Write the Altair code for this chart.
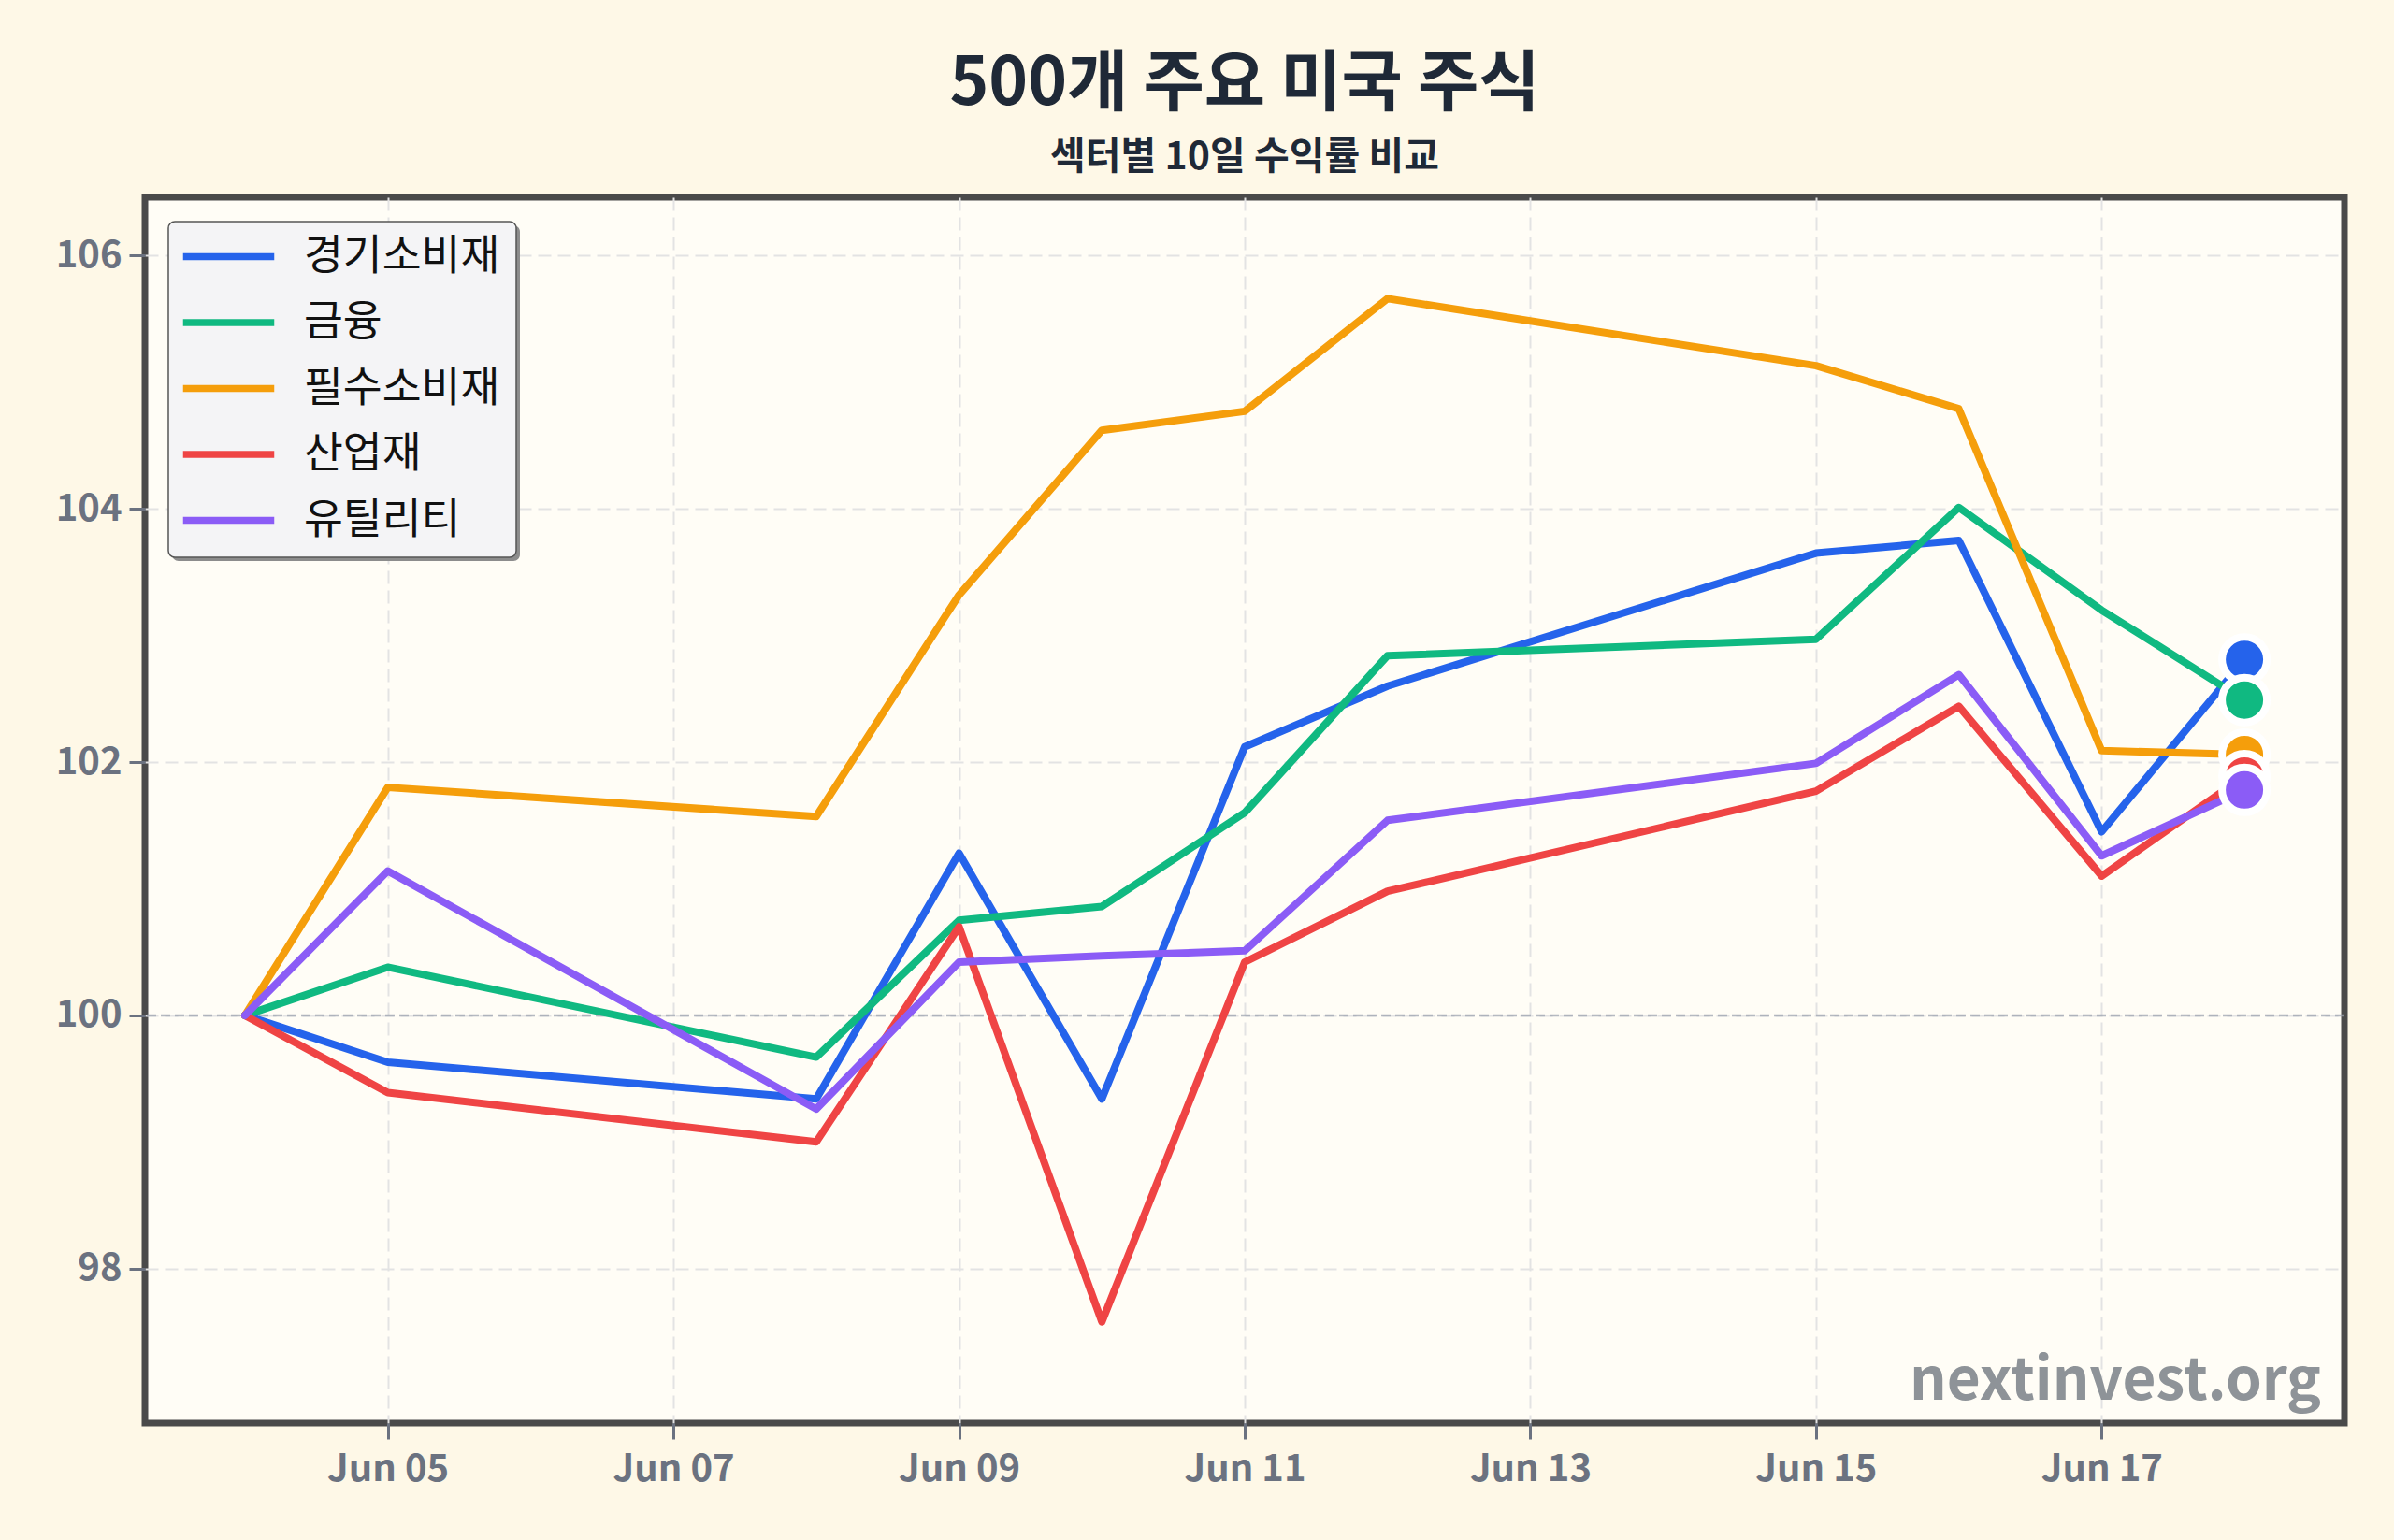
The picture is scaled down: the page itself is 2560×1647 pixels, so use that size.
import altair as alt
import pandas as pd

# ---- data ----
dates = ["2020-06-04", "2020-06-05", "2020-06-08", "2020-06-09", "2020-06-10",
         "2020-06-11", "2020-06-12", "2020-06-15", "2020-06-16", "2020-06-17",
         "2020-06-18"]
sectors = ["경기소비재", "금융", "필수소비재", "산업재", "유틸리티"]
colors = ["#2563eb", "#10b981", "#f59e0b", "#ef4444", "#8b5cf6"]

consumer_disc = [100.00, 99.63, 99.34, 101.28, 99.34, 102.12, 102.60, 103.65, 103.75, 101.45, 102.81]
financials    = [100.00, 100.38, 99.67, 100.75, 100.86, 101.60, 102.84, 102.97, 104.01, 103.20, 102.49]
staples       = [100.00, 101.80, 101.57, 103.32, 104.62, 104.77, 105.66, 105.13, 104.79, 102.09, 102.06]
industrials   = [100.00, 99.39, 99.00, 100.70, 97.58, 100.42, 100.98, 101.77, 102.44, 101.10, 101.89]
utilities     = [100.00, 101.14, 99.26, 100.42, 100.47, 100.51, 101.54, 101.99, 102.69, 101.26, 101.78]

y_ticks = [98, 100, 102, 104, 106]
x_tick_days = [5, 7, 9, 11, 13, 15, 17]
baseline = [100]
title_text = "500개 주요 미국 주식"
subtitle_text = "섹터별 10일 수익률 비교"
watermark = ["nextinvest.org"]

series = [consumer_disc, financials, staples, industrials, utilities]
rows = []
for s, vals in zip(sectors, series):
    for d, v in zip(dates, vals):
        rows.append({"date": d, "sector": s, "value": v})
df = pd.DataFrame(rows)
last = df[df["date"] == dates[-1]].reset_index(drop=True)

FONT = "Noto Sans CJK KR"
W, H = 2352, 1311

x_domain = [alt.DateTime(year=2020, month=6, date=3, hours=7, minutes=12, utc=True),
            alt.DateTime(year=2020, month=6, date=18, hours=16, minutes=48, utc=True)]
x_values = [alt.DateTime(year=2020, month=6, date=d, utc=True) for d in x_tick_days]

x_enc = alt.X("date:T", scale=alt.Scale(type="utc", domain=x_domain),
              axis=alt.Axis(values=x_values, format="%b %d", title=None,
                            labelPadding=12))
y_enc = alt.Y("value:Q", scale=alt.Scale(domain=[96.78, 106.46], nice=False, zero=False),
              axis=alt.Axis(values=y_ticks, format="d", title=None, labelPadding=8))
color_scale = alt.Scale(domain=sectors, range=colors)

base = alt.Chart(df)
one = pd.DataFrame({"k": [0]})

# legend frame + drop shadow (legend's own frame is disabled)
shadow = alt.Chart(one).mark_rect(fill="#8c8c8c", cornerRadius=7).encode(
    x=alt.value(29), x2=alt.value(401), y=alt.value(30), y2=alt.value(389))
box = alt.Chart(one).mark_rect(fill="#f4f4f6", stroke="#555555", strokeWidth=1.5,
                               cornerRadius=7).encode(
    x=alt.value(25), x2=alt.value(397), y=alt.value(26), y2=alt.value(385))

ref = alt.Chart(pd.DataFrame({"y": baseline})).mark_rule(
    color="#9ca3af", strokeDash=[10, 5], strokeWidth=2.5, opacity=0.75
).encode(y="y:Q")

lines = base.mark_line(strokeWidth=8, strokeJoin="round", strokeCap="round").encode(
    x=x_enc, y=y_enc,
    color=alt.Color("sector:N", scale=color_scale, sort=sectors,
                    legend=alt.Legend(
                        title=None, orient="top-left", offset=25,
                        symbolType="M-2.5,0L2.5,0", symbolSize=1521,
                        symbolStrokeWidth=7.5, symbolOffset=26,
                        labelOffset=57, labelFont=FONT, labelFontSize=45.5,
                        labelColor="#111111", labelLimit=600,
                        rowPadding=23.5, padding=15)),
    detail="sector:N",
)

dots = alt.Chart(last).mark_circle(size=2304, stroke="white", strokeWidth=8, opacity=1).encode(
    x="date:T", y="value:Q",
    color=alt.Color("sector:N", scale=color_scale, legend=None),
)

wm = alt.Chart(pd.DataFrame({"t": watermark})).mark_text(
    align="right", baseline="alphabetic", font=FONT, fontSize=62,
    fontWeight="bold", color="#8e9398"
).encode(x=alt.value(W - 25), y=alt.value(H - 25), text="t:N")

chart = alt.layer(ref, lines, dots, wm, shadow, box).properties(
    width=W, height=H,
    autosize="none",
    padding={"left": 155, "top": 211, "right": 53, "bottom": 125},
    background="#fef8e7",
    title=alt.TitleParams(
        text=title_text, subtitle=subtitle_text, anchor="middle", frame="group",
        font=FONT, fontSize=71, fontWeight="bold", color="#1f2937",
        subtitleFont=FONT, subtitleFontSize=41, subtitleFontWeight="bold",
        subtitleColor="#1f2937", subtitlePadding=22, offset=21,
    ),
).configure_view(
    stroke="#4a4a4a", strokeWidth=7, fill="#fffdf6"
).configure_axis(
    domain=False, tickColor="#6b7280", tickWidth=3, tickSize=17,
    labelFont=FONT, labelFontSize=40, labelFontWeight="bold", labelColor="#6b7280",
    grid=True, gridColor="#e3e3e3", gridDash=[14, 7], gridWidth=2,
)

chart.save("out.html", embed_options={"renderer": "svg", "actions": False})
